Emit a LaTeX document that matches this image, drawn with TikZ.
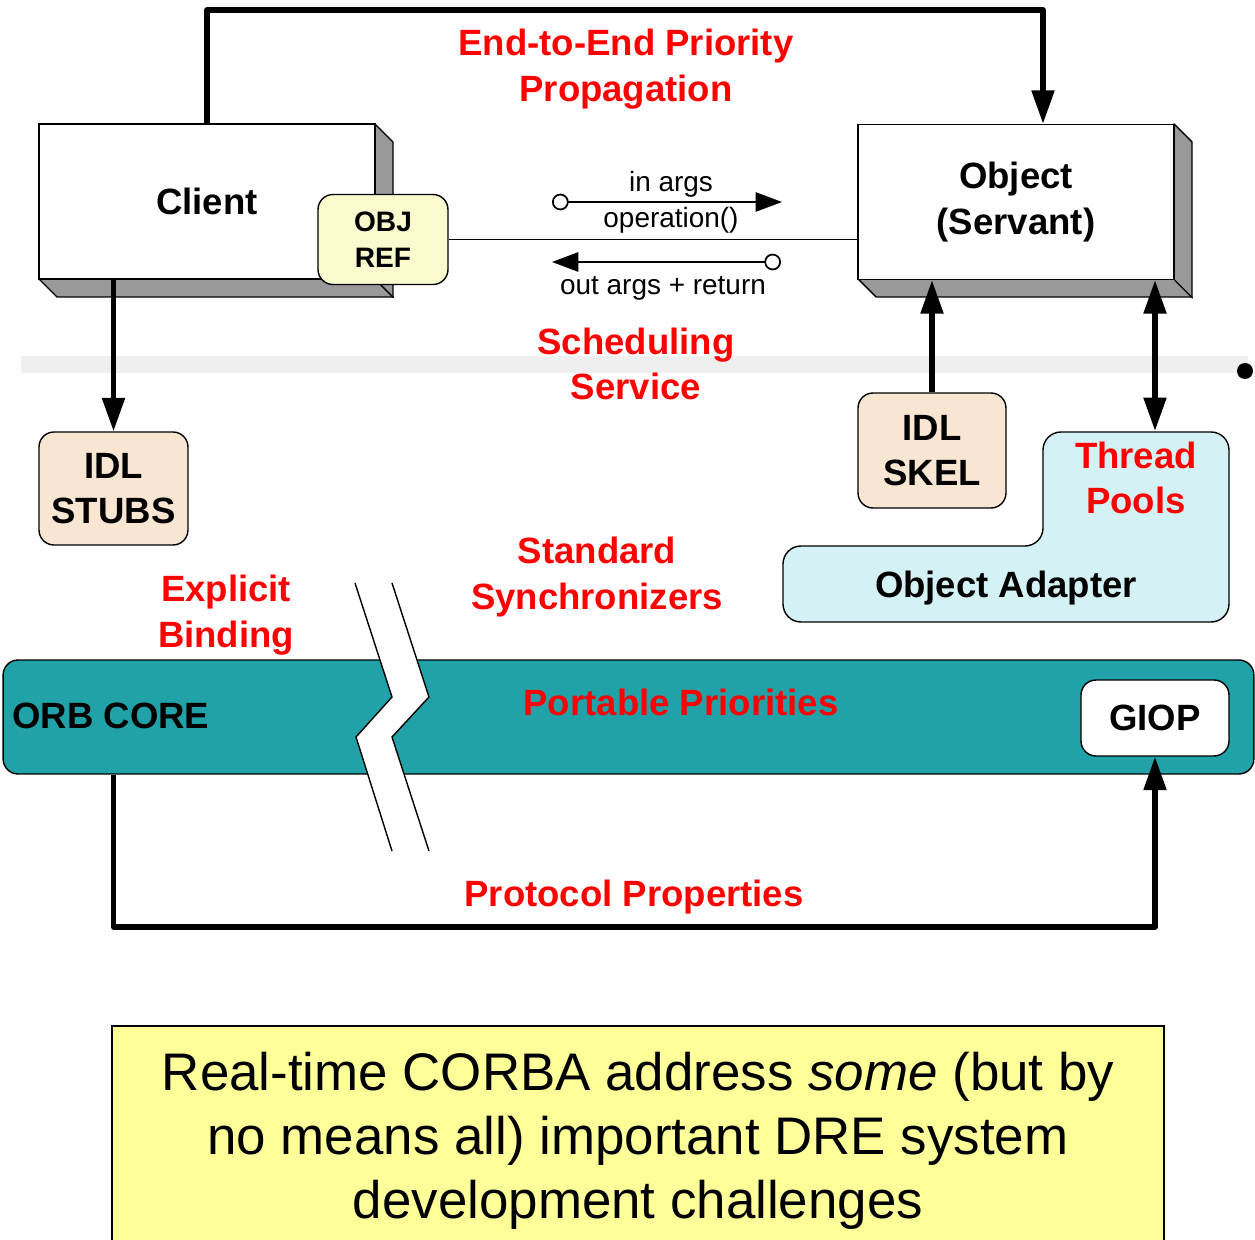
\documentclass[tikz,border=0pt]{standalone}
\usepackage{fontspec}
\setmainfont{Liberation Sans}
\usetikzlibrary{arrows.meta}

\definecolor{shadowgray}{RGB}{153,153,153}
\definecolor{labelred}{RGB}{255,0,0}
\definecolor{orbteal}{RGB}{33,162,168}
\definecolor{adaptercyan}{RGB}{212,242,245}
\definecolor{idlbisque}{RGB}{248,230,211}
\definecolor{refyellow}{RGB}{250,250,206}
\definecolor{noteyellow}{RGB}{255,255,153}
\definecolor{layergray}{RGB}{239,239,239}

\begin{document}
\begin{tikzpicture}[x=0.02cm, y=-0.02cm,
  facebox/.style={draw, fill=white, line width=0.8pt, inner sep=0pt, align=center,
    font=\bfseries\fontsize{20.8}{26}\selectfont},
  side3d/.style={draw, fill=shadowgray, line width=0.8pt, line join=round},
  pill/.style={draw, line width=0.8pt, rounded corners=0.3cm, inner sep=0pt, align=center,
    font=\bfseries\fontsize{20.8}{26}\selectfont},
  lbl/.style={font=\bfseries\fontsize{20.8}{26}\selectfont, align=center, inner sep=0pt},
  redlbl/.style={lbl, text=labelred},
  smalltxt/.style={font=\fontsize{15.9}{19}\selectfont, inner sep=0pt},
  bigarrow/.style={line width=3pt, line join=round, -{Triangle[length=19pt,width=12.5pt]}},
  bothbig/.style={line width=3pt, {Triangle[length=19pt,width=12.5pt]}-{Triangle[length=19pt,width=12.5pt]}},
  callarrow/.style={line width=1pt, {Circle[open,length=9.5pt,width=9.5pt,fill=white]}-{Triangle[length=15pt,width=11pt]}}
]
\useasboundingbox (0,0) rectangle (1255,1240);

% faint layer separator
\fill[layergray] (21,356) rectangle (1248,373);
\fill[black] (1245,371) circle (8);

% client box with its 3-D sides
\filldraw[side3d] (375,124) -- (393,142) -- (393,297) -- (57,297) -- (39,279) -- (375,279) -- cycle;
\node[facebox, minimum width=6.72cm, minimum height=3.1cm] (client) at (207,201.5) {Client};
\draw[line width=0.8pt] (client.south east) -- ++(18,18);

% servant box with its 3-D sides
\filldraw[side3d] (1174,124) -- (1192,142) -- (1192,297) -- (876,297) -- (858,279) -- (1174,279) -- cycle;
\node[facebox, minimum width=6.32cm, minimum height=3.1cm] (object) at (1016,202) {Object\\(Servant)};
\draw[line width=0.8pt] (object.south east) -- ++(18,18);

% object reference
\node[pill, fill=refyellow, minimum width=2.6cm, minimum height=1.8cm,
  font=\bfseries\fontsize{16}{20.5}\selectfont] (objref) at (383,239.5) {OBJ\\REF};
\draw[line width=0.8pt] (objref.east) -- (objref.east -| object.west);

% request / reply arrows
\coordinate (inS) at (552,202);
\coordinate (inE) at (782,202);
\coordinate (outS) at (781,262);
\coordinate (outE) at (552,262);
\draw[callarrow] (inS) -- (inE);
\draw[callarrow] (outS) -- (outE);
\node[smalltxt] (inargs) at (671,184) {in args};
\node[smalltxt] (oper) at (671,220) {operation()};
\node[smalltxt] (outargs) at (663,288) {out args + return};

% stubs and skeleton
\node[pill, fill=idlbisque, minimum width=2.98cm, minimum height=2.26cm] (stubs) at (113.5,488.5) {IDL\\STUBS};
\node[pill, fill=idlbisque, minimum width=2.96cm, minimum height=2.3cm] (skel) at (932,450.5) {IDL\\SKEL};

% object adapter
\filldraw[fill=adaptercyan, line width=0.8pt, rounded corners=0.36cm]
  (1136,432) -- (1229,432) -- (1229,622) -- (783,622) -- (783,546) -- (1043,546) -- (1043,432) -- cycle;
\node[redlbl] (pools) at (1136,478) {Thread\\Pools};
\node[lbl] (adapter) at (1006,588) {Object Adapter};
\coordinate (tptop) at (1155,431);

% ORB core band
\node[draw, fill=orbteal, line width=0.8pt, rounded corners=0.3cm, minimum width=25.02cm,
  minimum height=2.28cm, inner sep=0pt] (orb) at (628.5,717) {};
\node[lbl, anchor=west] (orblabel) at (12,716) {ORB CORE};
\node[pill, fill=white, minimum width=2.96cm, minimum height=1.52cm] (giop) at (1155,718) {GIOP};

% break in the core
\fill[white] (355,583) -- (392,697) -- (356,737) -- (392,851) -- (429,851) -- (392,737) -- (429,697) -- (392,583) -- cycle;
\draw[line width=0.8pt] (355,583) -- (392,697) -- (356,737) -- (392,851);
\draw[line width=0.8pt] (392,583) -- (429,697) -- (392,737) -- (429,851);

% red feature labels
\node[redlbl] (e2e) at (626,69) {End-to-End Priority\\Propagation};
\node[redlbl] (sched) at (636,364) {Scheduling\\Service};
\node[redlbl] (explicit) at (226,615) {Explicit\\Binding};
\node[redlbl] (sync) at (597,577) {Standard\\Synchronizers};
\node[redlbl] (prio) at (681,702) {Portable Priorities};
\node[redlbl] (proto) at (634,897) {Protocol Properties};

% connectors
\coordinate (ptop) at (1043,10);
\coordinate (pbot) at (634,927);
\draw[bigarrow] (client.north) |- (ptop) -- (ptop |- object.north);
\draw[bigarrow] (stubs.north |- client.south) -- (stubs.north);
\draw[bigarrow] (skel.north) -- (skel.north |- object.south);
\draw[bothbig] (tptop |- object.south) -- (tptop);
\draw[bigarrow] (orb.south -| stubs.south) |- (pbot) -| (giop.south);

% summary note
\node[draw, fill=noteyellow, line width=0.8pt, minimum width=21.04cm, minimum height=4.6cm,
  align=center, font=\fontsize{30.1}{36.3}\selectfont] (note) at (638,1141)
  {Real-time CORBA address \textit{some} (but by\\no means all) important DRE system\\development challenges};
\end{tikzpicture}
\end{document}
